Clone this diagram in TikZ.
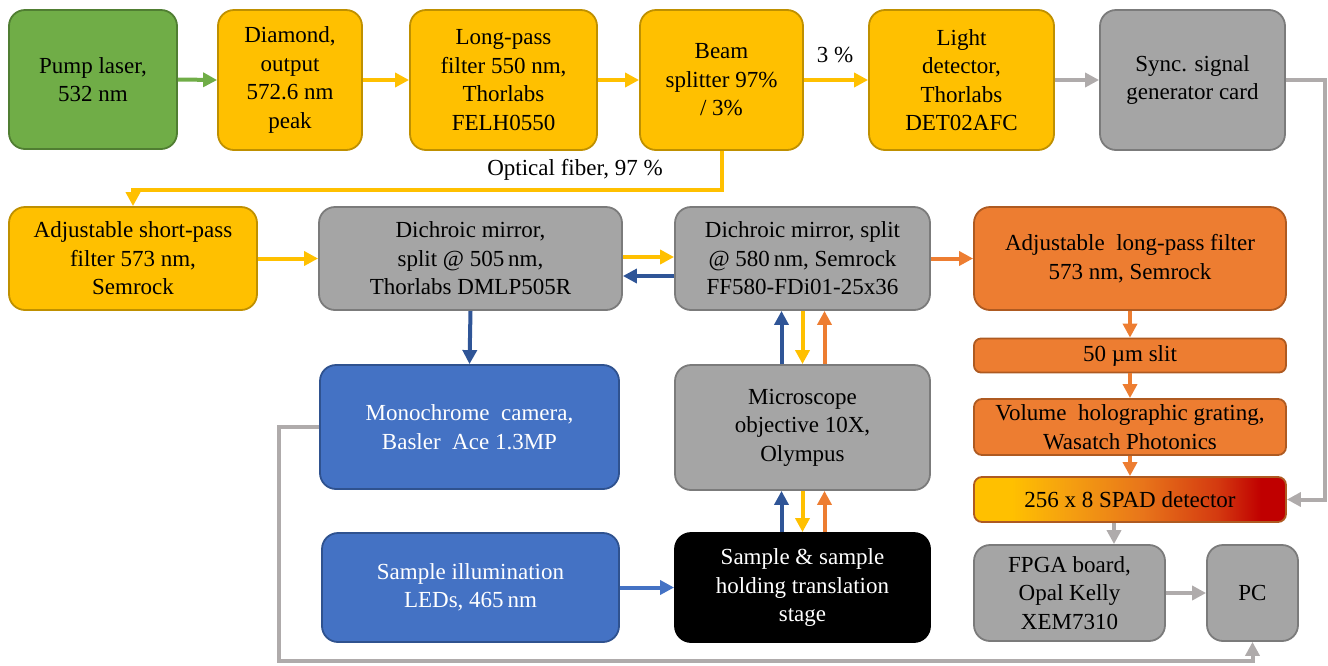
\documentclass[tikz,border=0pt]{standalone}
\usepackage{fontspec}
\setmainfont{Liberation Serif}
\usetikzlibrary{arrows.meta}
\definecolor{grnF}{HTML}{70AD47}
\definecolor{grnD}{HTML}{507E32}
\definecolor{ylwF}{HTML}{FFC000}
\definecolor{ylwD}{HTML}{BF9000}
\definecolor{gryF}{HTML}{A5A5A5}
\definecolor{gryD}{HTML}{7B7B7B}
\definecolor{gryA}{HTML}{AFABAB}
\definecolor{orgF}{HTML}{ED7D31}
\definecolor{orgD}{HTML}{AE5A21}
\definecolor{bluF}{HTML}{4472C4}
\definecolor{bluD}{HTML}{2F528F}
\definecolor{bluA}{HTML}{2F5597}
\definecolor{spY}{HTML}{FFC000}
\definecolor{spO1}{HTML}{F5A010}
\definecolor{spO2}{HTML}{E8751A}
\definecolor{spR1}{HTML}{D43A10}
\definecolor{spR2}{HTML}{C00000}
\pgfdeclarehorizontalshading{spadshade}{100bp}{color(0bp)=(spY); color(25bp)=(spY); color(31bp)=(spY); color(40bp)=(spO1); color(52bp)=(spO2); color(64bp)=(spR1); color(71bp)=(spR2); color(75bp)=(spR2); color(100bp)=(spR2)}
\begin{document}
\begin{tikzpicture}[x=1pt,y=-1pt,
  font=\fontsize{23}{28.5}\selectfont,
  box/.style={draw, line width=1.8pt, rounded corners=16pt, align=center, inner sep=0pt},
  gbox/.style={box, fill=grnF, draw=grnD},
  ybox/.style={box, fill=ylwF, draw=ylwD},
  kbox/.style={box, fill=gryF, draw=gryD},
  obox/.style={box, fill=orgF, draw=orgD},
  bbox/.style={box, fill=bluF, draw=bluD, text=white},
  blkbox/.style={box, fill=black, draw=black, text=white},
  arr/.style={line width=4pt, -{Triangle[length=14pt,width=14pt]}},
  garr/.style={arr, draw=grnF},
  yarr/.style={arr, draw=ylwF},
  karr/.style={arr, draw=gryA},
  oarr/.style={arr, draw=orgF},
  barr/.style={arr, draw=bluA},
  lbarr/.style={arr, draw=bluF}
]
\useasboundingbox (0,0) rectangle (1328,665);
% row 1
\node[gbox, minimum width=168pt, minimum height=139pt] (pump) at (93,79.5) {Pump laser,\\532 nm};
\node[ybox, minimum width=144pt, minimum height=140pt] (diam) at (290,80) {Diamond,\\output\\572.6 nm\\peak};
\node[ybox, minimum width=187pt, minimum height=140pt] (lp) at (503.5,80) {Long-pass\\filter 550 nm,\\Thorlabs\\FELH0550};
\node[ybox, minimum width=163pt, minimum height=140pt] (beam) at (721.5,80) {Beam\\splitter 97\%\\/ 3\%};
\node[ybox, minimum width=185pt, minimum height=140pt] (light) at (961.5,80) {Light\\detector,\\Thorlabs\\DET02AFC};
\node[kbox, minimum width=185pt, minimum height=140pt] (sync) at (1192.5,80) {Sync. signal\\generator card};
% row 2
\node[ybox, minimum width=248pt, minimum height=103pt] (sp) at (133,258.5) {Adjustable short-pass\\filter 573 nm,\\Semrock};
\node[kbox, minimum width=303pt, minimum height=103pt] (d505) at (470.5,258.5) {Dichroic mirror,\\split @ 505\,nm,\\Thorlabs DMLP505R};
\node[kbox, minimum width=255pt, minimum height=103pt] (d580) at (802.5,258.5) {Dichroic mirror, split\\@ 580\,nm, Semrock\\FF580-FDi01-25x36};
\node[obox, minimum width=312pt, minimum height=103pt] (lpf) at (1130,258.5) {Adjustable\ \ long-pass filter\\573 nm, Semrock};
% row 3
\node[bbox, minimum width=299pt, minimum height=124pt] (cam) at (469.5,427) {Monochrome\ \ camera,\\Basler\ \ Ace 1.3MP};
\node[kbox, minimum width=255pt, minimum height=125pt] (micro) at (802.5,427.5) {Microscope\\objective 10X,\\Olympus};
\node[obox, rounded corners=7pt, minimum width=312pt, minimum height=34pt] (slit) at (1130,355.5) {50 µm slit};
\node[obox, rounded corners=8pt, minimum width=312pt, minimum height=56pt] (vol) at (1130,427) {Volume\ \ holographic grating,\\Wasatch Photonics};
\node[box, draw=orgD, rounded corners=8pt, shade, shading=spadshade, minimum width=312pt, minimum height=45pt] (spad) at (1130,499.5) {256 x 8 SPAD detector};
% row 4
\node[bbox, minimum width=297pt, minimum height=109pt] (illum) at (470.5,587.5) {Sample illumination\\LEDs, 465\,nm};
\node[blkbox, minimum width=255pt, minimum height=109pt] (sample) at (802.5,587.5) {Sample \& sample\\holding translation\\stage};
\node[kbox, minimum width=191pt, minimum height=96pt] (fpga) at (1069.5,593) {FPGA board,\\Opal Kelly\\XEM7310};
\node[kbox, minimum width=91pt, minimum height=96pt] (pc) at (1252.5,593) {PC};
% labels
\node (l3) at (835,55) {3 \%};
\node (lfib) at (575,170) {Optical fiber, 97 \%};
% helper coordinates
\coordinate (fib) at (0,190);
\coordinate (rgt) at (1325,0);
\coordinate (lft) at (279,0);
\coordinate (bot) at (0,661);
% row 1 connectors
\draw[garr] (pump.east) -- (diam.west);
\draw[yarr] (diam.east) -- (lp.west);
\draw[yarr] (lp.east) -- (beam.west);
\draw[yarr] (beam.east) -- (light.west);
\draw[karr] (light.east) -- (sync.west);
\draw[yarr] (beam.south) -- (beam.south |- fib) -- (sp.north |- fib) -- (sp.north);
\draw[karr] (sync.east) -- (sync.east -| rgt) -- (spad.east -| rgt) -- (spad.east);
% row 2 connectors
\draw[yarr] (sp.east) -- (d505.west);
\draw[yarr] ([yshift=1.5pt]d505.east) -- ([yshift=1.5pt]d580.west);
\draw[barr] ([yshift=-17.5pt]d580.west) -- ([yshift=-17.5pt]d505.east);
\draw[oarr] (d580.east) -- (lpf.west);
\draw[barr] (d505.south) -- (cam.north);
% microscope column
\draw[barr] ([xshift=-21pt]micro.north) -- ([xshift=-21pt]d580.south);
\draw[yarr] (d580.south) -- (micro.north);
\draw[oarr] ([xshift=22pt]micro.north) -- ([xshift=22pt]d580.south);
\draw[barr] ([xshift=-21pt]sample.north) -- ([xshift=-21pt]micro.south);
\draw[yarr] (micro.south) -- (sample.north);
\draw[oarr] ([xshift=22pt]sample.north) -- ([xshift=22pt]micro.south);
\draw[lbarr] (illum.east) -- (sample.west);
% spectrometer column
\draw[oarr] (lpf.south) -- (slit.north);
\draw[oarr] (slit.south) -- (vol.north);
\draw[oarr] (vol.south) -- (spad.north);
\draw[karr] ([xshift=-16pt]spad.south) -- ([xshift=-16pt]spad.south |- fpga.north);
\draw[karr] (fpga.east) -- (pc.west);
\draw[karr] (cam.west) -- (cam.west -| lft) -- (lft |- bot) -- (pc.south |- bot) -- (pc.south);
\end{tikzpicture}
\end{document}
